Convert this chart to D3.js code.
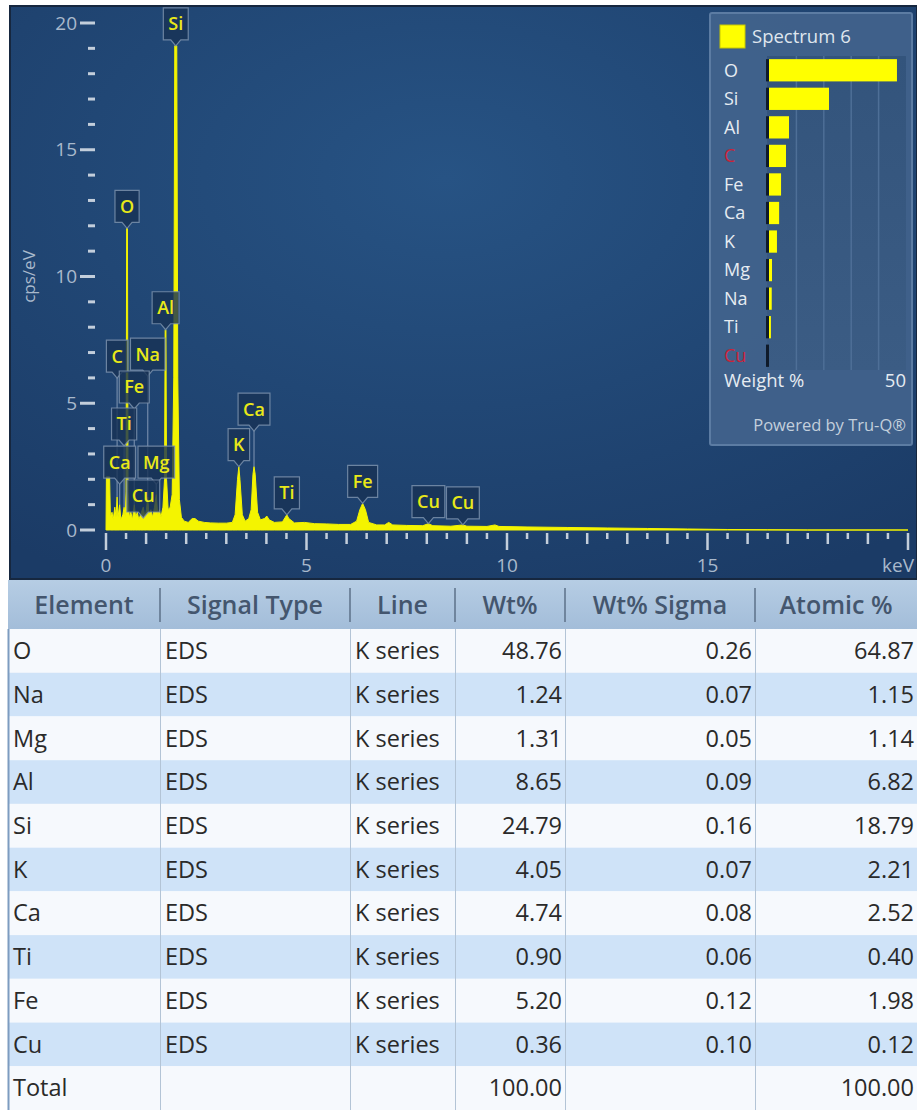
<!DOCTYPE html>
<html>
<head>
<meta charset="utf-8">
<script src="https://cdn.jsdelivr.net/npm/d3@7"></script>
<style>
  body { margin: 0; background: #ffffff; }
  svg { display: block; font-family: "Open Sans", "Noto Sans", sans-serif; }
</style>
</head>
<body>
<svg id="chart" width="917" height="1110"></svg>
<script>
// ---- Spectrum 6 : EDS counts (keV, cps/eV) ----
const spectrum = [
  [0.00, 0.0], [0.01, 2.1], [0.09, 2.1], [0.11, 0.5], [0.15, 0.7], [0.18, 0.4],
  [0.22, 0.9], [0.25, 0.5], [0.277, 1.3], [0.30, 0.5], [0.341, 1.0], [0.37, 0.4],
  [0.42, 0.6], [0.452, 0.9], [0.48, 0.5], [0.50, 1.5], [0.515, 11.9], [0.535, 11.9],
  [0.55, 1.5], [0.58, 0.5], [0.62, 0.7], [0.66, 0.4], [0.705, 1.0], [0.74, 0.5],
  [0.78, 0.7], [0.82, 0.4], [0.86, 0.6], [0.93, 0.9], [0.97, 0.5], [1.01, 0.8],
  [1.041, 1.3], [1.07, 0.6], [1.12, 0.8], [1.16, 0.5], [1.21, 0.9], [1.254, 1.4],
  [1.29, 0.6], [1.33, 0.8], [1.37, 0.5], [1.42, 0.9], [1.46, 2.0], [1.475, 7.9],
  [1.495, 7.9], [1.51, 2.0], [1.55, 0.8], [1.60, 0.9], [1.65, 1.4], [1.69, 6.0],
  [1.715, 19.1], [1.765, 19.1], [1.79, 6.0], [1.83, 1.2], [1.88, 0.5], [1.95, 0.35],
  [2.05, 0.30], [2.15, 0.45], [2.22, 0.45], [2.30, 0.35], [2.45, 0.30], [2.60, 0.28],
  [2.80, 0.27], [3.00, 0.27], [3.15, 0.30], [3.22, 0.6], [3.28, 2.0], [3.313, 2.5],
  [3.34, 2.0], [3.40, 0.6], [3.47, 0.35], [3.56, 0.45], [3.62, 0.8], [3.665, 2.2],
  [3.691, 2.5], [3.72, 2.2], [3.78, 0.7], [3.85, 0.40], [3.95, 0.45], [4.01, 0.55],
  [4.07, 0.40], [4.20, 0.30], [4.40, 0.32], [4.47, 0.50], [4.51, 0.60], [4.56, 0.45],
  [4.70, 0.28], [4.95, 0.30], [5.20, 0.25], [5.50, 0.24], [5.80, 0.22], [6.10, 0.22],
  [6.25, 0.35], [6.33, 0.8], [6.40, 1.05], [6.47, 0.8], [6.55, 0.30], [6.75, 0.20],
  [6.95, 0.20], [7.05, 0.30], [7.15, 0.20], [7.50, 0.18], [7.90, 0.17], [8.04, 0.25],
  [8.15, 0.17], [8.60, 0.15], [8.90, 0.20], [9.00, 0.15], [9.50, 0.14], [9.70, 0.20],
  [9.80, 0.14], [10.5, 0.12], [11.5, 0.10], [12.5, 0.08], [13.5, 0.06], [14.5, 0.04],
  [15.5, 0.02], [16.5, 0.01], [17.5, 0.0], [20.0, 0.0]
];

// Peak identification markers
const peakElements = ["Si", "O", "Al", "C", "Na", "Fe", "Ti", "Ca", "Mg", "Cu", "K", "Ca", "Ti", "Fe", "Cu", "Cu"];
const peakEnergies = [1.74, 0.525, 1.486, 0.277, 1.041, 0.705, 0.452, 0.341, 1.254, 0.93, 3.313, 3.691, 4.51, 6.40, 8.04, 8.90];

// Legend: quantified weight % for Spectrum 6
const legendElements = ["O", "Si", "Al", "C", "Fe", "Ca", "K", "Mg", "Na", "Ti", "Cu"];
const legendWeight = [46.7, 21.9, 7.3, 6.2, 4.4, 3.7, 2.9, 1.1, 1.0, 0.7, 0.0];
const legendFlagged = ["C", "Cu"];

// Results table
const tableHeaders = ["Element", "Signal Type", "Line", "Wt%", "Wt% Sigma", "Atomic %"];
const tableElements = ["O", "Na", "Mg", "Al", "Si", "K", "Ca", "Ti", "Fe", "Cu"];
const tableSignal = ["EDS", "EDS", "EDS", "EDS", "EDS", "EDS", "EDS", "EDS", "EDS", "EDS"];
const tableLine = ["K series", "K series", "K series", "K series", "K series", "K series", "K series", "K series", "K series", "K series"];
const tableWt = ["48.76", "1.24", "1.31", "8.65", "24.79", "4.05", "4.74", "0.90", "5.20", "0.36"];
const tableSigma = ["0.26", "0.07", "0.05", "0.09", "0.16", "0.07", "0.08", "0.06", "0.12", "0.10"];
const tableAtomic = ["64.87", "1.15", "1.14", "6.82", "18.79", "2.21", "2.52", "0.40", "1.98", "0.12"];
const tableTotal = ["Total", "", "", "100.00", "", "100.00"];

const yTicksMajor = [0, 5, 10, 15, 20];
const xTickLabels = ["0", "5", "10", "15", "keV"];

// ---------------------------------------------------------------
const svg = d3.select("#chart");
const defs = svg.append("defs");

const bg = defs.append("radialGradient").attr("id", "panelBg")
  .attr("cx", "48%").attr("cy", "30%").attr("r", "80%");
bg.append("stop").attr("offset", "0%").attr("stop-color", "#275384");
bg.append("stop").attr("offset", "100%").attr("stop-color", "#1b3b66");

const hdr = defs.append("linearGradient").attr("id", "hdrBg").attr("x1", 0).attr("y1", 0).attr("x2", 0).attr("y2", 1);
hdr.append("stop").attr("offset", "0%").attr("stop-color", "#b6cde4");
hdr.append("stop").attr("offset", "100%").attr("stop-color", "#a3bdd9");

const inner = defs.append("linearGradient").attr("id", "legInner").attr("x1", 0).attr("y1", 0).attr("x2", 0).attr("y2", 1);
inner.append("stop").attr("offset", "0%").attr("stop-color", "#33547c");
inner.append("stop").attr("offset", "100%").attr("stop-color", "#3b5c84");

// Spectrum panel
const panel = { x0: 10, y0: 6, x1: 917, y1: 579 };
svg.append("rect")
  .attr("x", panel.x0).attr("y", panel.y0)
  .attr("width", panel.x1 - panel.x0).attr("height", panel.y1 - panel.y0)
  .attr("fill", "url(#panelBg)").attr("stroke", "#16273f").attr("stroke-width", 2);

const x = d3.scaleLinear().domain([0, 20]).range([106, 908]);
const y = d3.scaleLinear().domain([0, 20]).range([530, 23]);

const axisColor = "#c3cedb";
const labelColor = "#a9b9cc";

// Y axis ticks
const yMinor = d3.range(0, 21, 1);
svg.append("g").selectAll("line").data(yMinor).join("line")
  .attr("x1", d => yTicksMajor.includes(d) ? 80 : 88)
  .attr("x2", 95)
  .attr("y1", d => y(d)).attr("y2", d => y(d))
  .attr("stroke", axisColor).attr("stroke-width", 3);
svg.append("g").selectAll("text").data(yTicksMajor).join("text")
  .attr("x", 77).attr("y", d => y(d))
  .attr("dy", "0.35em").attr("text-anchor", "end")
  .attr("fill", labelColor).attr("font-size", 19).text(d => d);
svg.append("text")
  .attr("transform", `translate(35,${y(10)}) rotate(-90)`)
  .attr("text-anchor", "middle").attr("fill", labelColor).attr("font-size", 17)
  .text("cps/eV");

// X axis ticks: half keV, keV, 5 keV
const xTicks = d3.range(0, 20.01, 0.5);
svg.append("g").selectAll("line").data(xTicks).join("line")
  .attr("x1", d => x(d)).attr("x2", d => x(d))
  .attr("y1", 533)
  .attr("y2", d => d % 5 === 0 ? 550 : (d % 1 === 0 ? 544 : 539))
  .attr("stroke", axisColor).attr("stroke-width", 2.5);
svg.append("g").selectAll("text").data(xTickLabels).join("text")
  .attr("x", (d, i) => d === "keV" ? 914 : x(i * 5))
  .attr("y", 572)
  .attr("text-anchor", d => d === "keV" ? "end" : "middle")
  .attr("fill", labelColor).attr("font-size", 19)
  .text(d => d);

// Spectrum
const area = d3.area().x(d => x(d[0])).y0(y(0)).y1(d => y(d[1]));
svg.append("path").datum(spectrum)
  .attr("d", area).attr("fill", "#f4f400")
  .attr("stroke", "#f4f400").attr("stroke-width", 1).attr("stroke-linejoin", "round");

// Peak height at an energy, taken from the spectrum itself
function peakAt(e) {
  const near = spectrum.filter(d => Math.abs(d[0] - e) <= 0.04);
  return d3.max(near, d => d[1]);
}

// Box levels (cps of box bottom) for markers lifted above their peak
const liftedBox = { 3: 6.23, 4: 6.31, 5: 5.01, 6: 3.55, 7: 2.05, 8: 2.05, 9: 0.71, 11: 4.14 };

const markers = svg.append("g");
peakElements.forEach((el, i) => {
  const e = peakEnergies[i];
  const cx = x(e);
  const tipY = y(peakAt(e));
  const yb = liftedBox[i] !== undefined ? y(liftedBox[i]) : tipY - 6;
  const h = 32;
  const g = markers.append("g");
  const path = g.append("path");
  const t = g.append("text")
    .attr("x", cx).attr("y", yb - h / 2).attr("dy", "0.36em")
    .attr("text-anchor", "middle").attr("fill", "#e9e918")
    .attr("font-size", 18).attr("font-weight", 600).text(el);
  const w = t.node().getComputedTextLength() + 10;
  const l = cx - w / 2, r = cx + w / 2;
  path.attr("d", `M${l},${yb - h}H${r}V${yb}H${cx + 5}L${cx},${yb + 6}L${cx - 5},${yb}H${l}Z`)
    .attr("fill", "#183255").attr("fill-opacity", 0.8)
    .attr("stroke", "#7a90ab").attr("stroke-width", 1.2).attr("stroke-opacity", 0.85);
  if (tipY - (yb + 6) > 1) {
    g.insert("line", "path")
      .attr("x1", cx).attr("x2", cx).attr("y1", yb + 6).attr("y2", tipY)
      .attr("stroke", "#8da2bc").attr("stroke-width", 1.2).attr("stroke-opacity", 0.75);
  }
});

// Legend panel
const leg = svg.append("g");
leg.append("rect").attr("x", 710).attr("y", 13).attr("width", 202).attr("height", 432)
  .attr("rx", 2).attr("fill", "#41628b").attr("fill-opacity", 0.96)
  .attr("stroke", "#5c7ca3").attr("stroke-width", 2);
leg.append("rect").attr("x", 720).attr("y", 25).attr("width", 25).attr("height", 23)
  .attr("fill", "#ffff00").attr("stroke", "#c8c800").attr("stroke-width", 1);
leg.append("text").attr("x", 752).attr("y", 37).attr("dy", "0.35em")
  .attr("fill", "#dfe6ee").attr("font-size", 18.5).text("Spectrum 6");

const lx = d3.scaleLinear().domain([0, 50]).range([769, 906]);
const ly = d3.scaleBand().domain(legendElements).range([56, 370]).paddingInner(0.22).paddingOuter(0.11);
leg.append("rect").attr("x", 767).attr("y", 56).attr("width", 906 - 767).attr("height", 314)
  .attr("fill", "url(#legInner)");
leg.append("g").selectAll("line").data([10, 20, 30, 40]).join("line")
  .attr("x1", d => lx(d)).attr("x2", d => lx(d)).attr("y1", 56).attr("y2", 370)
  .attr("stroke", "#4e6f97").attr("stroke-width", 1.5);
leg.append("g").selectAll("rect").data(legendElements).join("rect")
  .attr("x", 766).attr("y", d => ly(d)).attr("width", 3).attr("height", ly.bandwidth())
  .attr("fill", "#0f1a2a");
leg.append("g").selectAll("rect").data(legendElements).join("rect")
  .attr("x", lx(0)).attr("y", d => ly(d))
  .attr("width", (d, i) => lx(legendWeight[i]) - lx(0)).attr("height", ly.bandwidth())
  .attr("fill", "#ffff00");
leg.append("g").selectAll("text").data(legendElements).join("text")
  .attr("x", 724).attr("y", d => ly(d) + ly.bandwidth() / 2).attr("dy", "0.35em")
  .attr("font-size", 18)
  .attr("fill", d => legendFlagged.includes(d) ? "#cc2238" : "#e6ecf2")
  .text(d => d);
leg.append("text").attr("x", 724).attr("y", 381).attr("dy", "0.35em")
  .attr("fill", "#e6ecf2").attr("font-size", 18.5).text("Weight %");
leg.append("text").attr("x", 906).attr("y", 381).attr("dy", "0.35em").attr("text-anchor", "end")
  .attr("fill", "#e6ecf2").attr("font-size", 18.5).text("50");
leg.append("text").attr("x", 906).attr("y", 425).attr("dy", "0.35em").attr("text-anchor", "end")
  .attr("fill", "#c3cfdc").attr("font-size", 16.5).text("Powered by Tru-Q®");

// Results table
const colEdges = [8, 160, 350, 455, 565, 755, 917];
const rows = tableElements.map((el, i) =>
  [el, tableSignal[i], tableLine[i], tableWt[i], tableSigma[i], tableAtomic[i]]);
rows.push(tableTotal);
const rowY = d3.scaleBand().domain(d3.range(rows.length)).range([629, 1110]);
const alignRight = [false, false, false, true, true, true];

const tbl = svg.append("g");
tbl.append("rect").attr("x", 8).attr("y", 580).attr("width", 909).attr("height", 49)
  .attr("fill", "url(#hdrBg)");
tbl.append("g").selectAll("line").data(colEdges.slice(1, -1)).join("line")
  .attr("x1", d => d).attr("x2", d => d).attr("y1", 588).attr("y2", 622)
  .attr("stroke", "#5d7189").attr("stroke-width", 1.5);
tbl.append("g").selectAll("text").data(tableHeaders).join("text")
  .attr("x", (d, i) => (colEdges[i] + colEdges[i + 1]) / 2)
  .attr("y", 605).attr("dy", "0.35em").attr("text-anchor", "middle")
  .attr("font-size", 25).attr("font-weight", 600).attr("fill", "#44566e")
  .text(d => d);

tbl.append("g").selectAll("rect").data(rows).join("rect")
  .attr("x", 8).attr("y", (d, i) => rowY(i)).attr("width", 909).attr("height", rowY.bandwidth())
  .attr("fill", (d, i) => i % 2 === 0 ? "#f6f9fd" : "#cfe3f8");
tbl.append("g").selectAll("line").data(colEdges.slice(0, -1)).join("line")
  .attr("x1", d => d + 0.5).attr("x2", d => d + 0.5).attr("y1", 629).attr("y2", 1110)
  .attr("stroke", (d, i) => i === 0 ? "#7d9cc0" : "#b3c4d6").attr("stroke-width", (d, i) => i === 0 ? 2 : 1);

rows.forEach((row, r) => {
  tbl.append("g").selectAll("text").data(row).join("text")
    .attr("x", (d, c) => alignRight[c] ? colEdges[c + 1] - 3 : colEdges[c] + 5)
    .attr("y", rowY(r) + rowY.bandwidth() / 2).attr("dy", "0.35em")
    .attr("text-anchor", (d, c) => alignRight[c] ? "end" : "start")
    .attr("font-size", 23.5).attr("fill", "#2a2a2a")
    .text(d => d);
});
</script>
</body>
</html>
